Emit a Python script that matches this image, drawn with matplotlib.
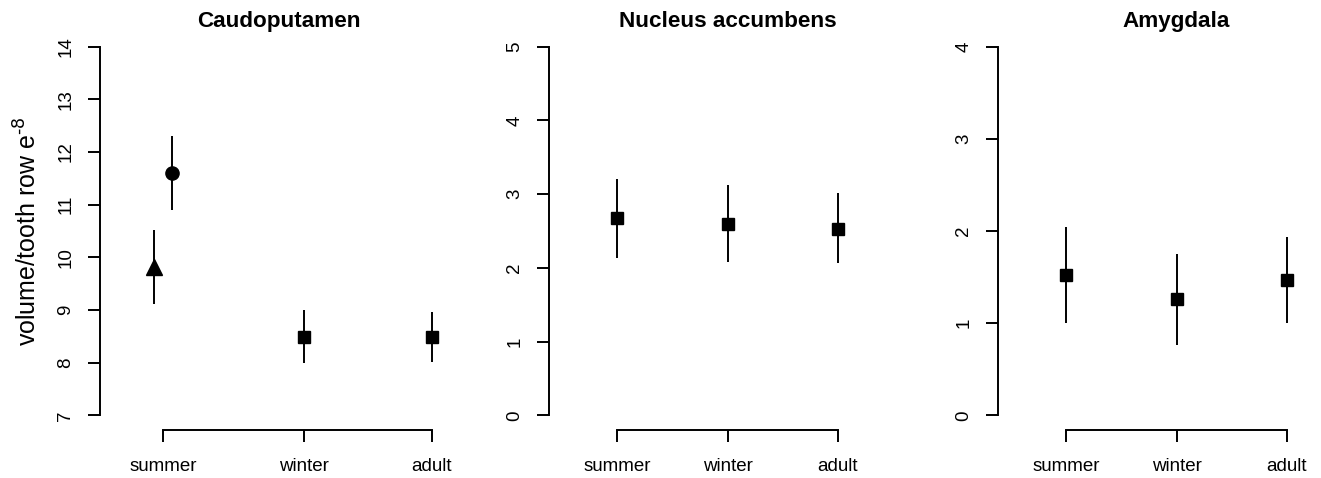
import matplotlib
matplotlib.use("Agg")
import matplotlib.pyplot as plt

plt.rcParams['font.family'] = ['Liberation Sans', 'DejaVu Sans']
plt.rcParams['mathtext.default'] = 'regular'

# --- data ---
GROUPS = ['summer', 'winter', 'adult']

# Caudoputamen: summer split in two (triangle / circle), winter + adult as squares
CP_SUMMER_TRI = (9.82, 9.11, 10.51)    # mean, low, high
CP_SUMMER_CIRC = (11.60, 10.90, 12.30)
CP_MEAN = [8.49, 8.49]
CP_LOW = [8.00, 8.01]
CP_HIGH = [9.00, 8.96]

NA_MEAN = [2.68, 2.60, 2.53]
NA_LOW = [2.13, 2.08, 2.06]
NA_HIGH = [3.21, 3.13, 3.02]

AM_MEAN = [1.52, 1.26, 1.47]
AM_LOW = [1.00, 0.76, 1.00]
AM_HIGH = [2.04, 1.75, 1.94]

W, H = 1321, 478
LW = 1.4
TICK_FS = 13.5


def r_axes(left_px, width_px, ymin, ymax, xlim, xticks, title):
    # R-style plot region: 4% padding on y, detached-looking axes
    top_px, bottom_px = 32, 430
    ax = fig.add_axes([left_px / W, (H - bottom_px) / H,
                       width_px / W, (bottom_px - top_px) / H])
    pad = 0.04 * (ymax - ymin)
    ax.set_ylim(ymin - pad, ymax + pad)
    ax.set_xlim(*xlim)
    for s in ['top', 'right']:
        ax.spines[s].set_visible(False)
    ax.spines['left'].set_bounds(ymin, ymax)
    ax.spines['bottom'].set_bounds(xticks[0], xticks[-1])
    for s in ['left', 'bottom']:
        ax.spines[s].set_linewidth(LW)
    ax.set_yticks(range(ymin, ymax + 1))
    ax.set_xticks(xticks)
    ax.set_xticklabels(GROUPS)
    ax.tick_params(axis='both', length=8.6, width=LW, labelsize=TICK_FS)
    ax.tick_params(axis='y', pad=10, labelrotation=90)
    ax.tick_params(axis='x', pad=11.5)
    for lab in ax.get_yticklabels():
        lab.set_va('center')
    ax.set_title(title, fontsize=16.2, fontweight='bold', pad=0.5)
    return ax


def errbars(ax, xs, mean, low, high, marker, ms):
    ax.vlines(xs, low, high, colors='black', lw=LW)
    ax.plot(xs, mean, linestyle='none', marker=marker, color='black',
            markersize=ms)


fig = plt.figure(figsize=(W / 100, H / 100), dpi=100)

# panel 1
cp_x = [0.9, 2, 3]
off = 0.07
ax1 = r_axes(100, 358, 7, 14, (0.408, 3.203), cp_x, 'Caudoputamen')
errbars(ax1, [cp_x[0] - off], [CP_SUMMER_TRI[0]], [CP_SUMMER_TRI[1]],
        [CP_SUMMER_TRI[2]], '^', 12)
errbars(ax1, [cp_x[0] + off], [CP_SUMMER_CIRC[0]], [CP_SUMMER_CIRC[1]],
        [CP_SUMMER_CIRC[2]], 'o', 9.5)
errbars(ax1, cp_x[1:], CP_MEAN, CP_LOW, CP_HIGH, 's', 9)
ax1.set_ylabel(r'volume/tooth row e$^{\text{-8}}$', fontsize=18, labelpad=11)

# panel 2
x = [1, 2, 3]
ax2 = r_axes(549, 357, 0, 5, (0.38, 3.62), x, 'Nucleus accumbens')
errbars(ax2, x, NA_MEAN, NA_LOW, NA_HIGH, 's', 9)

# panel 3
ax3 = r_axes(998, 357, 0, 4, (0.38, 3.62), x, 'Amygdala')
errbars(ax3, x, AM_MEAN, AM_LOW, AM_HIGH, 's', 9)

fig.savefig('out.png', dpi=100)
